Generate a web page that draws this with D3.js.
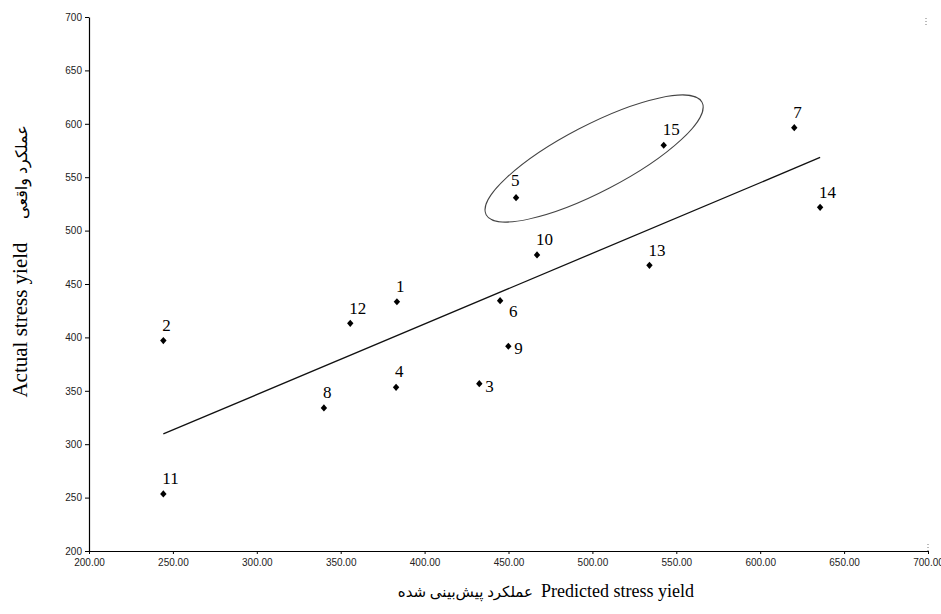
<!DOCTYPE html>
<html>
<head>
<meta charset="utf-8">
<script src="https://cdnjs.cloudflare.com/ajax/libs/d3/7.8.5/d3.min.js"></script>
<style>
  body { margin: 0; background: #fff; }
  svg { display: block; }
</style>
</head>
<body>
<div id="chart"></div>
<script>
// point ids, predicted (x) and actual (y) stress yield
var pointIds = [1, 2, 3, 4, 5, 6, 7, 8, 9, 10, 11, 12, 13, 14, 15];
var predicted = [383.5, 244.3, 432.6, 383.0, 454.5, 445.0, 620.3, 340.0, 449.9, 467.0, 244.3, 355.7, 534.0, 635.7, 542.5];
var actual = [433.4, 397.0, 356.7, 353.3, 530.8, 434.4, 596.4, 334.0, 391.7, 477.2, 253.4, 413.2, 467.5, 521.8, 579.9];

var xTicks = [200, 250, 300, 350, 400, 450, 500, 550, 600, 650, 700];
var yTicks = [200, 250, 300, 350, 400, 450, 500, 550, 600, 650, 700];

// highlighted group (points 5 and 15), centre in data units
var circledCentre = [501, 567.5];

var svgWidth = 941;
var svgHeight = 614;

var margin = {
  top: 17,
  bottom: 63,
  right: 13,
  left: 89
};
var width = svgWidth - margin.left - margin.right;
var height = svgHeight - margin.top - margin.bottom;

var svg = d3.select("#chart")
  .append("svg")
  .attr("width", svgWidth)
  .attr("height", svgHeight);

var chartGroup = svg.append("g")
  .attr("transform", `translate(${margin.left}, ${margin.top})`);

var xScale = d3.scaleLinear().domain([200, 700]).range([0, width]);
var yScale = d3.scaleLinear().domain([200, 700]).range([height, 0]);

var points = pointIds.map((id, i) => ({ id: id, x: predicted[i], y: actual[i] }));

// axes
var xAxis = d3.axisBottom(xScale)
  .tickValues(xTicks)
  .tickSize(3)
  .tickSizeOuter(0)
  .tickFormat(d3.format(".2f"));
var yAxis = d3.axisLeft(yScale)
  .tickValues(yTicks)
  .tickSize(4)
  .tickSizeOuter(0)
  .tickFormat(d3.format("d"));

var gx = chartGroup.append("g")
  .attr("transform", `translate(0, ${height})`)
  .call(xAxis);
var gy = chartGroup.append("g")
  .call(yAxis);

[gx, gy].forEach(function(g) {
  g.selectAll("path").attr("stroke", "#000").attr("stroke-width", 1.2);
  g.selectAll("line").attr("stroke", "#000");
  g.selectAll("text")
    .style("font-family", "'Liberation Sans', Arial, sans-serif")
    .style("font-size", "10px")
    .attr("fill", "#222");
});
gx.selectAll("text").attr("dy", "0.9em");
gy.selectAll("text").attr("x", -7);

// faint dotted remains of the plot-area border at the right edge
chartGroup.append("line")
  .attr("x1", width - 2).attr("x2", width - 2)
  .attr("y1", 1).attr("y2", 8)
  .attr("stroke", "#777")
  .attr("stroke-dasharray", "1,2");
chartGroup.append("line")
  .attr("x1", width).attr("x2", width)
  .attr("y1", height - 7).attr("y2", height)
  .attr("stroke", "#777")
  .attr("stroke-dasharray", "1,2");

// regression line over the range of the points
var mx = d3.mean(points, d => d.x);
var my = d3.mean(points, d => d.y);
var sxy = d3.sum(points, d => (d.x - mx) * (d.y - my));
var sxx = d3.sum(points, d => (d.x - mx) * (d.x - mx));
var slope = sxy / sxx;
var intercept = my - slope * mx;
var xExt = d3.extent(points, d => d.x);

chartGroup.append("line")
  .attr("x1", xScale(xExt[0]))
  .attr("y1", yScale(intercept + slope * xExt[0]))
  .attr("x2", xScale(xExt[1]))
  .attr("y2", yScale(intercept + slope * xExt[1]))
  .attr("stroke", "#111")
  .attr("stroke-width", 1.3);

// ellipse around 5 and 15
chartGroup.append("ellipse")
  .attr("transform", `translate(${xScale(circledCentre[0])}, ${yScale(circledCentre[1])}) rotate(-27.5)`)
  .attr("rx", 121.7)
  .attr("ry", 33.3)
  .attr("fill", "none")
  .attr("stroke", "#444")
  .attr("stroke-width", 1);

// markers
chartGroup.selectAll(".pt")
  .data(points)
  .enter()
  .append("path")
  .attr("class", "pt")
  .attr("d", "M0,-3.6L3.2,0L0,3.6L-3.2,0Z")
  .attr("transform", d => `translate(${xScale(d.x)}, ${yScale(d.y)})`)
  .attr("fill", "#000");

// labels: most sit above the marker
var labelSide = { 3: "right", 9: "right", 6: "below", 5: "aboveLeft" };
function labelOffset(id) {
  var side = labelSide[id];
  if (side == "right") return [6, 8];
  if (side == "below") return [9, 16];
  if (side == "aboveLeft") return [-5, -11.5];
  return [-1, -9.8];
}

chartGroup.selectAll(".lbl")
  .data(points)
  .enter()
  .append("text")
  .attr("class", "lbl")
  .attr("x", d => xScale(d.x) + labelOffset(d.id)[0])
  .attr("y", d => yScale(d.y) + labelOffset(d.id)[1])
  .style("font-family", "'Liberation Serif', 'Times New Roman', serif")
  .style("font-size", "17px")
  .attr("fill", "#000")
  .text(d => d.id);

// axis titles
var titleFont = "'Liberation Serif', 'Times New Roman', 'DejaVu Serif', 'DejaVu Sans', serif";

svg.append("text")
  .attr("transform", "translate(27, 320) rotate(-90)")
  .attr("text-anchor", "middle")
  .style("font-family", titleFont)
  .style("font-size", "21px")
  .text("Actual stress yield");

svg.append("text")
  .attr("transform", "translate(27, 172) rotate(-90)")
  .attr("text-anchor", "middle")
  .style("font-family", titleFont)
  .style("font-size", "16px")
  .text("عملکرد واقعی");

svg.append("text")
  .attr("x", 541)
  .attr("y", 597)
  .attr("text-anchor", "start")
  .style("font-family", titleFont)
  .style("font-size", "18px")
  .text("Predicted stress yield");

svg.append("text")
  .attr("x", 533)
  .attr("y", 597)
  .attr("text-anchor", "end")
  .style("font-family", titleFont)
  .style("font-size", "15px")
  .text("عملکرد پیش‌بینی شده");
</script>
</body>
</html>
